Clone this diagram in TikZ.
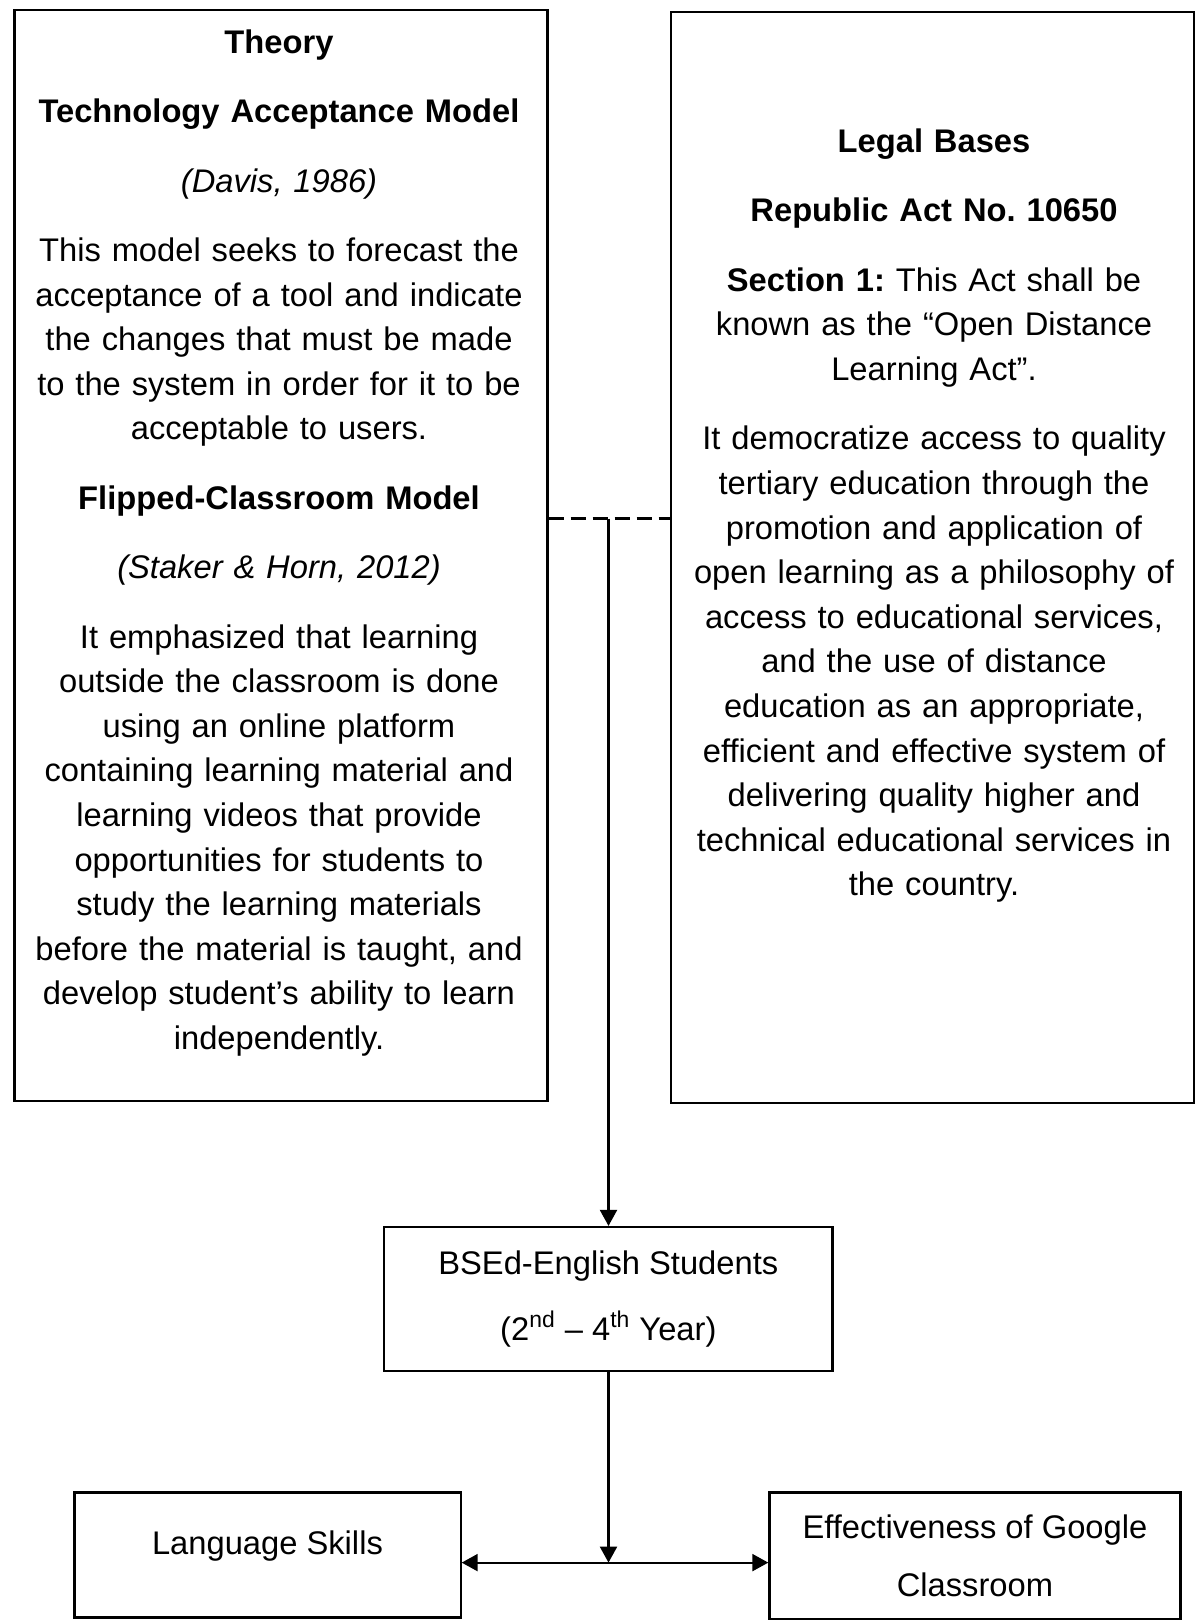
\documentclass[tikz,border=0pt]{standalone}
\usepackage{fontspec}
\setmainfont{Liberation Sans}
\usetikzlibrary{arrows.meta}
\frenchspacing

\begin{document}
\begin{tikzpicture}[
        x=0.5pt, y=-0.5pt,
        frame/.style={draw, line width=1.1pt, inner sep=0pt},
        txt/.style={align=center, inner sep=0pt, anchor=base,
                    font=\fontsize{16.35pt}{22.3pt}\selectfont},
        box/.style={draw, line width=1.1pt, align=center, inner sep=0pt,
                    font=\fontsize{16.35pt}{33pt}\selectfont},
        arr/.style={-{Triangle[length=8pt,width=8.5pt]}, line width=1.1pt},
        darr/.style={{Triangle[length=8pt,width=8.5pt]}-{Triangle[length=8pt,width=8.5pt]}, line width=1.1pt}
    ]
        \useasboundingbox (0,0) rectangle (1198,1620);
        \node[frame, minimum width=266.5pt, minimum height=545.3pt] (theory) at (281, 555.7) {};
        \node[frame, minimum width=261.4pt, minimum height=545.3pt] (legal)  at (932.7, 557.7) {};
        \node[txt, text width=262pt] (theorytxt) at (279, 53.3) {%
            \textbf{Theory}\\[12.4pt]
            \textbf{Technology Acceptance Model}\\[12.4pt]
            \textit{(Davis, 1986)}\\[12.4pt]
            This model seeks to forecast the\\ acceptance of a tool and indicate\\
            the changes that must be made\\ to the system in order for it to be\\
            acceptable to users.\\[12.4pt]
            \textbf{Flipped-Classroom Model}\\[12.4pt]
            \textit{(Staker \& Horn, 2012)}\\[12.4pt]
            It emphasized that learning\\ outside the classroom is done\\
            using an online platform\\ containing learning material and\\
            learning videos that provide\\ opportunities for students to\\
            study the learning materials\\ before the material is taught, and\\
            develop student's ability to learn\\ independently.};
        \node[txt, text width=256pt] (legaltxt) at (934, 152.5) {%
            \textbf{Legal Bases}\\[12.4pt]
            \textbf{Republic Act No. 10650}\\[12.4pt]
            \textbf{Section 1:} This Act shall be\\ known as the ``Open Distance\\
            Learning Act''.\\[12.4pt]
            It democratize access to quality\\ tertiary education through the\\
            promotion and application of\\ open learning as a philosophy of\\
            access to educational services,\\ and the use of distance\\
            education as an appropriate,\\ efficient and effective system of\\
            delivering quality higher and\\ technical educational services in\\
            the country.};
        \node[box, minimum width=224.1pt, minimum height=71.8pt] (bsed) at (608.3, 1298.8)
            {BSEd-English Students\\ (2\textsuperscript{nd} -- 4\textsuperscript{th} Year)};
        \node[box, minimum width=193.1pt, minimum height=62.5pt, text depth=12.5pt] (lang) at (267.5, 1554.9)
            {Language Skills};
        \node[box, minimum width=205.5pt, minimum height=63.5pt,
              font=\fontsize{16.35pt}{28.9pt}\selectfont] (eff) at (974.9, 1556)
            {Effectiveness of Google\\ Classroom};
        \coordinate (junc) at (608.5, 518.5);
        \coordinate (meet) at (608.5, 1562.6);
        \draw[line width=1.1pt, dash pattern=on 7.5pt off 3.5pt] (theory.east |- junc) -- (legal.west |- junc);
        \draw[arr] (junc) -- (junc |- bsed.north);
        \draw[arr] (bsed.south -| meet) -- (meet);
        \draw[darr] (lang.east |- meet) -- (eff.west |- meet);
    \end{tikzpicture}
\end{document}
